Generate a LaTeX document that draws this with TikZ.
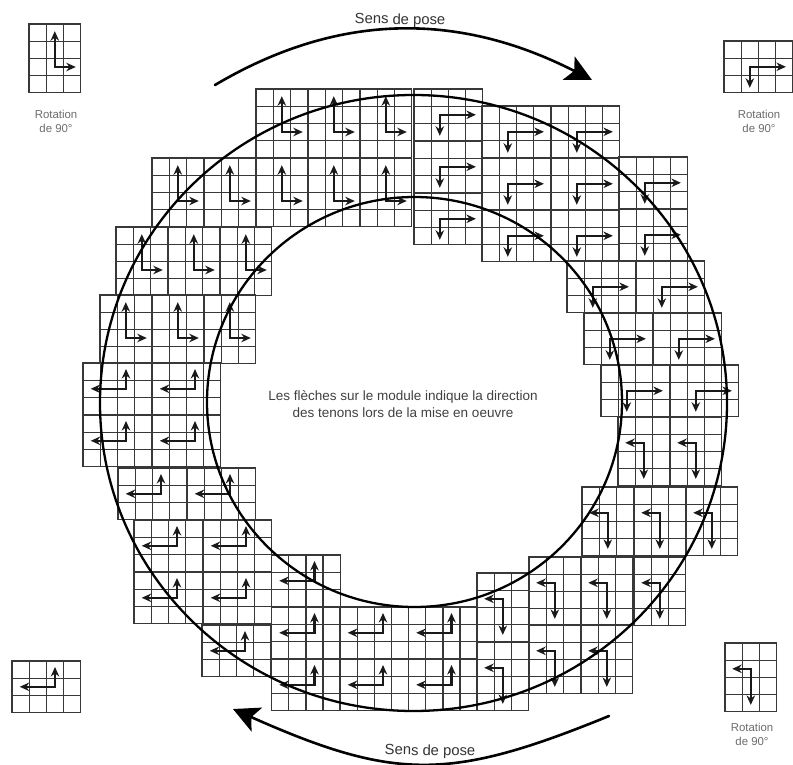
\documentclass[tikz,border=0pt]{standalone}
\usepackage{fontspec}
\setmainfont{Liberation Sans}
\usetikzlibrary{arrows.meta}
\definecolor{gridc}{gray}{0.22}
\definecolor{labc}{gray}{0.42}
\tikzset{
  cellgrid/.style={draw=gridc,line width=1.35pt},
  tenon/.style={draw=black!90,line width=2.1pt,{Stealth[length=9.5pt,width=8.5pt]}-{Stealth[length=9.5pt,width=8.5pt]}},
  ring/.style={draw=black,line width=2.3pt},
  posearrow/.style={draw=black,line width=2.6pt,line cap=round,-{Stealth[length=26pt,width=26pt,inset=6pt]}},
  senslabel/.style={font=\fontsize{14.8}{16}\selectfont,text=black!80,inner sep=0pt},
  rotlabel/.style={font=\fontsize{11.4}{14.5}\selectfont,text=labc,align=center,inner sep=0pt},
  mainlabel/.style={font=\fontsize{13.5}{17}\selectfont,text=black!75,align=center,inner sep=0pt}
}
% tall modules: 3 cells wide, 4 high
\newcommand{\tallgrid}{\draw[cellgrid] (0,0) rectangle (3,4) (1,0)--(1,4) (2,0)--(2,4) (0,1)--(3,1) (0,2)--(3,2) (0,3)--(3,3);}
% wide modules: 4 cells wide, 3 high
\newcommand{\widegrid}{\draw[cellgrid] (0,0) rectangle (4,3) (1,0)--(1,3) (2,0)--(2,3) (3,0)--(3,3) (0,1)--(4,1) (0,2)--(4,2);}
\newcommand{\modU}[2]{\begin{scope}[shift={(#1,#2)},x=17.2pt,y=-17.2pt]\tallgrid\draw[tenon] (1.5,.42)--(1.5,2.5)--(2.72,2.5);\end{scope}}
\newcommand{\modD}[2]{\begin{scope}[shift={(#1,#2)},x=17.2pt,y=-17.2pt]\tallgrid\draw[tenon] (.42,1.5)--(1.5,1.5)--(1.5,3.6);\end{scope}}
\newcommand{\modL}[2]{\begin{scope}[shift={(#1,#2)},x=17.2pt,y=-17.2pt]\widegrid\draw[tenon] (.45,1.5)--(2.5,1.5)--(2.5,.35);\end{scope}}
\newcommand{\modR}[2]{\begin{scope}[shift={(#1,#2)},x=17.2pt,y=-17.2pt]\widegrid\draw[tenon] (1.5,2.72)--(1.5,1.5)--(3.6,1.5);\end{scope}}
\begin{document}
\begin{tikzpicture}[x=1pt,y=-1pt]
\useasboundingbox (0,0) rectangle (793,765);
% legend modules
\modU{29}{24}
\modR{724}{41}
\modL{12}{661}
\modD{725}{643}
% up modules
\foreach \x in {256,308,360}{\modU{\x}{89}\modU{\x}{158}}
\foreach \x in {152,204}{\modU{\x}{158}}
\foreach \x in {116,168,220}{\modU{\x}{227}}
\foreach \x in {100,152,204}{\modU{\x}{295}}
% right modules
\foreach \y in {89,141,193}{\modR{414}{\y}}
\foreach \y in {106,158,210}{\modR{482}{\y}\modR{551}{\y}}
\foreach \y in {157,209}{\modR{619}{\y}}
\foreach \x in {567,636}{\modR{\x}{261}}
\foreach \x in {584,653}{\modR{\x}{313}}
\foreach \x in {601,670}{\modR{\x}{365}}
% down modules
\foreach \x in {618,670}{\modD{\x}{417}}
\foreach \x in {582,634,686}{\modD{\x}{487}}
\foreach \x in {529,581}{\modD{\x}{557}\modD{\x}{625}}
\modD{634}{557}
\foreach \y in {573,642}{\modD{477}{\y}}
% left modules
\foreach \y in {363,415}{\modL{83}{\y}\modL{152}{\y}}
\foreach \x in {118,187}{\modL{\x}{468}}
\foreach \y in {520,572}{\modL{134}{\y}\modL{203}{\y}}
\modL{202}{625}
\foreach \y in {555,607,659}{\modL{271.5}{\y}}
\foreach \y in {607,659}{\modL{340}{\y}\modL{408.5}{\y}}
% rings
\draw[ring] (413.5,403) ellipse [x radius=313.5,y radius=308];
\draw[ring] (414.5,402) ellipse [x radius=207.5,y radius=205];
% direction arrows
\coordinate (topstart) at (215,85);
\coordinate (toptip) at (592,80);
\coordinate (botstart) at (609,716);
\coordinate (bottip) at (233,709);
\draw[posearrow] (topstart) .. controls (335,14) and (455,10) .. (toptip);
\draw[posearrow] (botstart) .. controls (450,781) and (395,781) .. (bottip);
% labels
\node[senslabel,rotate=-1] (senstop) at (400,20.5) {Sens de pose};
\node[senslabel,rotate=-1] (sensbot) at (430,751.5) {Sens de pose};
\node[mainlabel] (maintext) at (403,404.5) {Les flèches sur le module indique la direction\\des tenons lors de la mise en oeuvre};
\node[rotlabel] (rottl) at (56,121.5) {Rotation\\de 90°};
\node[rotlabel] (rottr) at (759,121.5) {Rotation\\de 90°};
\node[rotlabel] (rotbr) at (752,734.5) {Rotation\\de 90°};
\end{tikzpicture}
\end{document}
